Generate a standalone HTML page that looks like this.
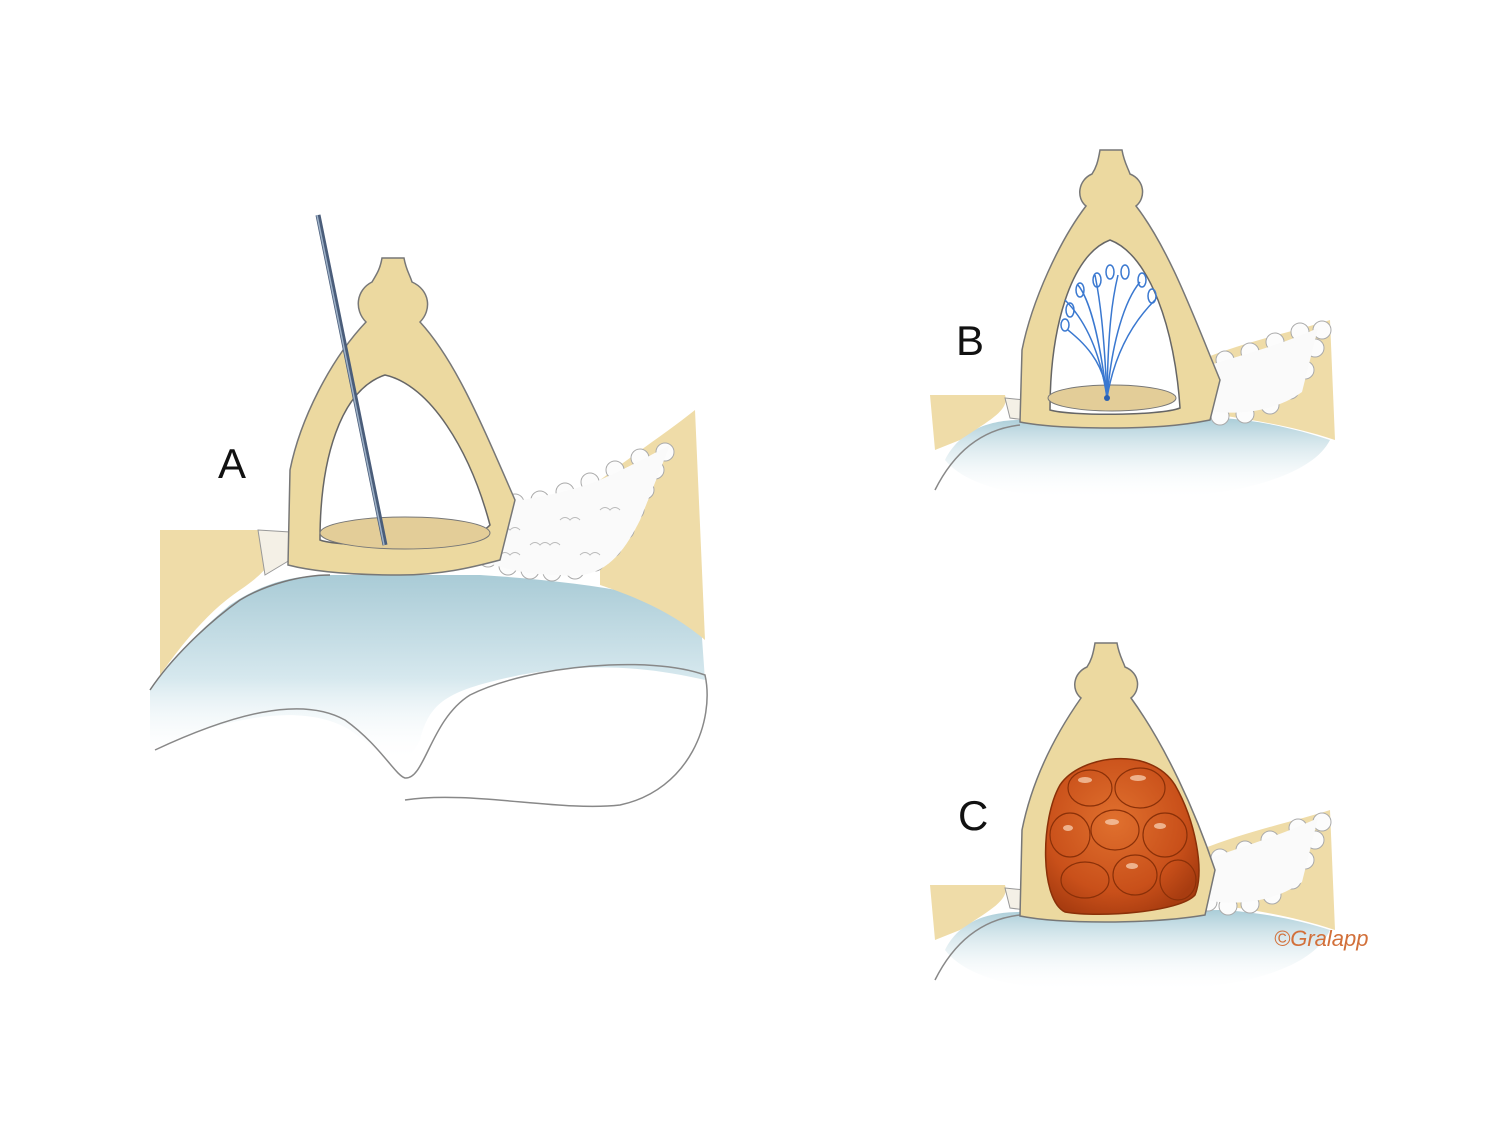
<!DOCTYPE html>
<html><head><meta charset="utf-8"><style>
html,body{margin:0;padding:0;background:#fff}
svg{display:block}
text{font-family:"Liberation Sans",sans-serif}
</style></head><body>
<svg width="1500" height="1125" viewBox="0 0 1500 1125" xmlns="http://www.w3.org/2000/svg">
<defs>
<linearGradient id="fl" x1="0" y1="0" x2="0" y2="1">
<stop offset="0" stop-color="#a9cbd6"/><stop offset="0.55" stop-color="#d6e8ee"/><stop offset="1" stop-color="#fff" stop-opacity="0"/></linearGradient>
<linearGradient id="fl2" x1="0" y1="0" x2="0" y2="1">
<stop offset="0" stop-color="#aacdd8"/><stop offset="1" stop-color="#fff" stop-opacity="0"/></linearGradient>
<radialGradient id="or" cx="0.45" cy="0.4" r="0.65">
<stop offset="0" stop-color="#e0702e"/><stop offset="0.7" stop-color="#c9501a"/><stop offset="1" stop-color="#a83c10"/></radialGradient>
<g id="puff"><circle r="9" fill="#fcfcfc" stroke="#aaa" stroke-width="1"/></g>
</defs>

<!-- ===== Panel A ===== -->
<path d="M150,690 C170,660 200,630 230,605 C260,585 290,575 330,575 L480,575 C560,580 640,590 700,610 L705,680 C660,670 600,660 520,675 C450,690 430,700 420,740 C400,780 390,760 350,730 C300,700 220,720 150,750 Z" fill="url(#fl)"/>
<path d="M150,690 C170,660 205,625 240,600 C265,585 300,575 330,575" fill="none" stroke="#777" stroke-width="1.5"/>
<path d="M155,750 C230,715 300,695 345,720 C380,745 395,775 405,778 C425,780 430,720 470,695 C530,665 650,655 705,675 C715,720 690,790 620,805 C560,812 470,790 405,800" fill="none" stroke="#888" stroke-width="1.5"/>
<path d="M160,530 L260,530 C280,540 285,560 240,590 C210,610 185,640 160,675 Z" fill="#efdca8"/>
<path d="M258,530 L290,532 L290,560 L265,575 Z" fill="#f4f0e6" stroke="#999" stroke-width="1"/>
<path d="M600,480 C640,450 670,430 695,410 L705,640 C670,610 630,595 600,585 Z" fill="#efdca8"/>
<!-- cotton A -->
<path d="M468,515 C500,500 550,500 600,480 C640,462 660,450 670,445 L640,520 C620,560 600,580 560,575 C520,575 490,565 470,555 C455,540 458,520 468,515 Z" fill="#fafafa"/>
<g>
<use href="#puff" x="475" y="520"/><use href="#puff" x="472" y="540"/><use href="#puff" x="488" y="558"/>
<use href="#puff" x="508" y="566"/><use href="#puff" x="530" y="570"/><use href="#puff" x="552" y="572"/>
<use href="#puff" x="575" y="570"/><use href="#puff" x="595" y="562"/><use href="#puff" x="612" y="548"/>
<use href="#puff" x="625" y="530"/><use href="#puff" x="635" y="510"/><use href="#puff" x="645" y="490"/>
<use href="#puff" x="655" y="470"/><use href="#puff" x="665" y="452"/><use href="#puff" x="492" y="508"/>
<use href="#puff" x="515" y="503"/><use href="#puff" x="540" y="500"/><use href="#puff" x="565" y="492"/>
<use href="#puff" x="590" y="482"/><use href="#puff" x="615" y="470"/><use href="#puff" x="640" y="458"/>
</g>
<path d="M468,512 C500,500 550,500 600,480 C640,462 660,450 670,445 L640,520 C620,560 600,580 560,575 C520,575 490,565 470,555 C458,540 458,520 468,512 Z" fill="#fafafa"/>
<g fill="none" stroke="#bbb" stroke-width="1">
<path d="M490,530 q5,-5 10,0 q5,-5 10,0 q5,-5 10,0"/><path d="M530,545 q5,-5 10,0 q5,-5 10,0 q5,-5 10,0"/>
<path d="M560,520 q5,-5 10,0 q5,-5 10,0"/><path d="M600,510 q5,-5 10,0 q5,-5 10,0"/>
<path d="M500,555 q5,-5 10,0 q5,-5 10,0"/><path d="M580,555 q5,-5 10,0 q5,-5 10,0"/>
</g>
<path d="M382,258 L404,258 C406,270 410,275 412,282 C430,290 432,310 420,322 C455,360 480,420 515,500 L500,560 C470,568 440,575 400,575 C350,575 315,572 288,565 L290,470 C300,420 330,360 366,322 C354,310 356,290 372,282 C376,275 380,270 382,258 Z" fill="#ecd9a0" stroke="#777" stroke-width="1.5"/>
<path d="M320,540 C320,460 340,390 385,375 C430,385 470,450 490,525 C470,548 340,548 320,540 Z" fill="#fff" stroke="#666" stroke-width="1.5"/>
<ellipse cx="405" cy="533" rx="85" ry="16" fill="#e3cd98" stroke="#777" stroke-width="1"/>
<line x1="318" y1="215" x2="385" y2="545" stroke="#4a5d7a" stroke-width="5"/>
<line x1="317" y1="215" x2="384" y2="545" stroke="#9fb2c8" stroke-width="1.5"/>
<text x="218" y="478" font-size="42" fill="#111">A</text>

<!-- ===== Panel B ===== -->
<path d="M945,460 C960,430 990,420 1020,420 L1220,418 C1260,420 1300,430 1330,440 C1310,480 1220,500 1120,500 C1030,500 970,490 945,460 Z" fill="url(#fl2)"/>
<path d="M935,490 C950,460 975,430 1020,425" fill="none" stroke="#888" stroke-width="1.5"/>
<path d="M930,395 L1005,395 C1010,410 990,420 960,440 L935,450 Z" fill="#efdca8"/>
<path d="M1005,398 L1025,400 L1025,420 L1010,418 Z" fill="#f4f0e6" stroke="#999"/>
<path d="M1200,360 C1250,340 1300,330 1330,320 L1335,440 C1290,425 1250,420 1220,415 Z" fill="#efdca8"/>
<g>
<use href="#puff" x="1185" y="380"/><use href="#puff" x="1182" y="400"/><use href="#puff" x="1198" y="412"/>
<use href="#puff" x="1220" y="416"/><use href="#puff" x="1245" y="414"/><use href="#puff" x="1270" y="405"/>
<use href="#puff" x="1290" y="390"/><use href="#puff" x="1305" y="370"/><use href="#puff" x="1315" y="348"/>
<use href="#puff" x="1322" y="330"/><use href="#puff" x="1200" y="368"/><use href="#puff" x="1225" y="360"/>
<use href="#puff" x="1250" y="352"/><use href="#puff" x="1275" y="342"/><use href="#puff" x="1300" y="332"/>
</g>
<path d="M1180,375 C1220,360 1270,350 1318,328 L1302,392 C1270,415 1230,415 1200,410 C1180,405 1175,385 1180,375 Z" fill="#fafafa"/>
<path d="M1100,150 L1122,150 C1124,162 1128,168 1130,174 C1145,180 1146,198 1136,206 C1170,250 1195,320 1220,380 L1210,420 C1180,426 1150,428 1110,428 C1070,428 1040,426 1020,422 L1022,350 C1032,300 1060,240 1086,206 C1076,198 1078,180 1092,174 C1096,168 1098,162 1100,150 Z" fill="#ecd9a0" stroke="#777" stroke-width="1.5"/>
<path d="M1050,410 C1050,330 1070,255 1110,240 C1150,255 1175,330 1180,408 C1160,416 1070,416 1050,410 Z" fill="#fff" stroke="#666" stroke-width="1.5"/>
<ellipse cx="1112" cy="398" rx="64" ry="13" fill="#e3cd98" stroke="#777"/>
<g fill="none" stroke="#3a78d0" stroke-width="1.5">
<path d="M1107,398 C1100,350 1085,320 1065,300"/>
<path d="M1107,398 C1100,340 1090,300 1078,285"/>
<path d="M1107,398 C1104,330 1100,300 1095,275"/>
<path d="M1107,398 C1108,330 1112,300 1118,275"/>
<path d="M1107,398 C1112,340 1125,300 1140,282"/>
<path d="M1107,398 C1115,350 1135,320 1155,300"/>
<path d="M1107,398 C1105,360 1080,340 1068,330"/>
<ellipse cx="1070" cy="310" rx="4" ry="7"/><ellipse cx="1080" cy="290" rx="4" ry="7"/>
<ellipse cx="1097" cy="280" rx="4" ry="7"/><ellipse cx="1125" cy="272" rx="4" ry="7"/>
<ellipse cx="1142" cy="280" rx="4" ry="7"/><ellipse cx="1152" cy="296" rx="4" ry="7"/>
<ellipse cx="1065" cy="325" rx="4" ry="6"/><ellipse cx="1110" cy="272" rx="4" ry="7"/>
</g>
<circle cx="1107" cy="398" r="3" fill="#2a60b0"/>
<text x="956" y="355" font-size="42" fill="#111">B</text>

<!-- ===== Panel C ===== -->
<path d="M945,950 C960,920 990,912 1020,912 L1220,910 C1260,912 1300,920 1330,930 C1310,975 1220,992 1120,992 C1030,992 970,982 945,950 Z" fill="url(#fl2)"/>
<path d="M935,980 C950,950 975,920 1020,915" fill="none" stroke="#888" stroke-width="1.5"/>
<path d="M930,885 L1005,885 C1010,900 990,910 960,930 L935,940 Z" fill="#efdca8"/>
<path d="M1005,888 L1025,890 L1025,910 L1010,908 Z" fill="#f4f0e6" stroke="#999"/>
<path d="M1200,850 C1250,830 1300,820 1330,810 L1335,930 C1290,915 1250,910 1220,905 Z" fill="#efdca8"/>
<g>
<use href="#puff" x="1198" y="870"/><use href="#puff" x="1195" y="890"/><use href="#puff" x="1208" y="902"/>
<use href="#puff" x="1228" y="906"/><use href="#puff" x="1250" y="904"/><use href="#puff" x="1272" y="895"/>
<use href="#puff" x="1292" y="880"/><use href="#puff" x="1305" y="860"/><use href="#puff" x="1315" y="840"/>
<use href="#puff" x="1322" y="822"/><use href="#puff" x="1220" y="858"/><use href="#puff" x="1245" y="850"/>
<use href="#puff" x="1270" y="840"/><use href="#puff" x="1298" y="828"/>
</g>
<path d="M1192,865 C1230,850 1270,840 1318,818 L1302,882 C1270,905 1230,905 1205,900 C1188,895 1185,875 1192,865 Z" fill="#fafafa"/>
<path d="M1095,643 L1117,643 C1119,655 1123,661 1125,667 C1140,673 1141,690 1131,698 C1165,745 1195,810 1215,870 L1205,915 C1175,920 1145,922 1105,922 C1065,922 1040,920 1020,916 L1022,830 C1032,780 1055,735 1081,698 C1071,690 1073,673 1087,667 C1091,661 1093,655 1095,643 Z" fill="#ecd9a0" stroke="#777" stroke-width="1.5"/>
<path d="M1060,785 C1080,755 1150,745 1175,785 C1195,820 1205,870 1195,895 C1180,912 1100,918 1065,912 C1040,900 1040,820 1060,785 Z" fill="url(#or)" stroke="#8a3008" stroke-width="1.5"/>
<g fill="none" stroke="#8a3008" stroke-width="1.2">
<ellipse cx="1090" cy="788" rx="22" ry="18"/><ellipse cx="1140" cy="788" rx="25" ry="20"/>
<ellipse cx="1070" cy="835" rx="20" ry="22"/><ellipse cx="1115" cy="830" rx="24" ry="20"/>
<ellipse cx="1165" cy="835" rx="22" ry="22"/><ellipse cx="1085" cy="880" rx="24" ry="18"/>
<ellipse cx="1135" cy="875" rx="22" ry="20"/><ellipse cx="1178" cy="880" rx="18" ry="20"/>
</g>
<g fill="#f6c8a8" opacity="0.8">
<ellipse cx="1085" cy="780" rx="7" ry="3"/><ellipse cx="1138" cy="778" rx="8" ry="3"/>
<ellipse cx="1112" cy="822" rx="7" ry="3"/><ellipse cx="1160" cy="826" rx="6" ry="3"/>
<ellipse cx="1068" cy="828" rx="5" ry="3"/><ellipse cx="1132" cy="866" rx="6" ry="3"/>
</g>
<text x="958" y="830" font-size="42" fill="#111">C</text>
<text x="1274" y="946" font-size="22" font-style="italic" fill="#d2703a" font-family="Liberation Serif,serif">©Gralapp</text>
</svg>
</body></html>
